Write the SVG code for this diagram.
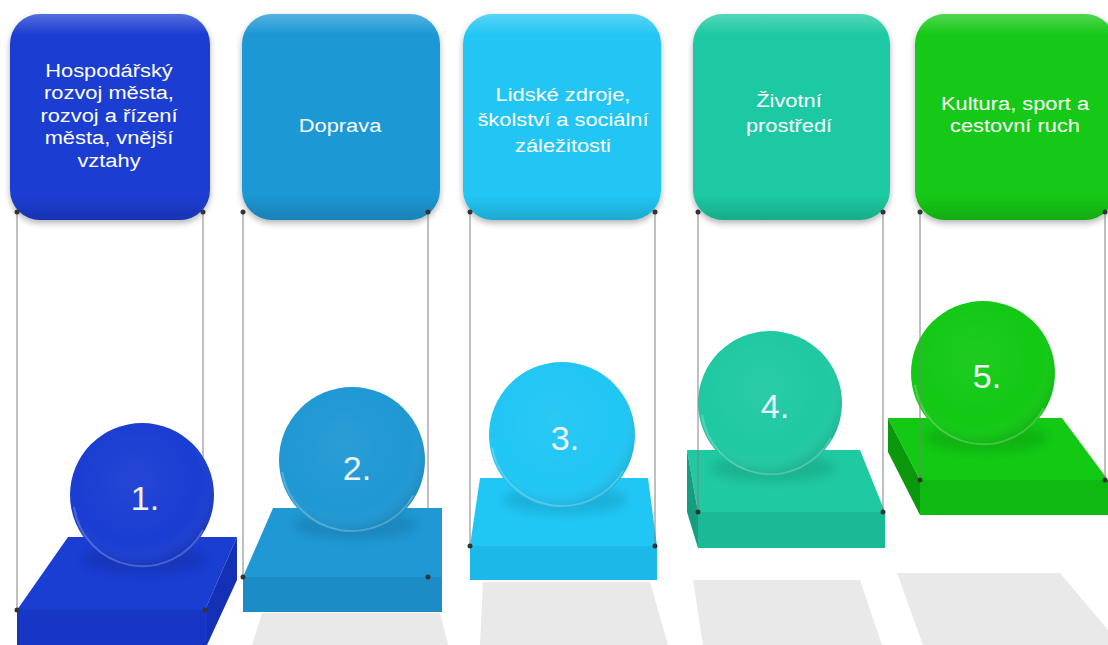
<svg xmlns="http://www.w3.org/2000/svg" width="1108" height="645" viewBox="0 0 1108 645">
<style>
.lbl{fill:#ffffff;font-family:"Liberation Sans",Arial,sans-serif;font-size:19px;text-anchor:middle}
.num{fill:#eef4ff;font-family:"Liberation Sans",Arial,sans-serif;font-size:34px;text-anchor:middle}
.conn{stroke:#808080;stroke-width:1;fill:none}
.dot{fill:#333333}
.shadow{fill:#e9e9e9}
.hl{fill:none;stroke:#ffffff;stroke-opacity:0.22;stroke-width:2}
.gloss{fill:url(#gloss)}
.sph{fill:url(#sph)}
.cshadow{fill:#000000;opacity:0.1;filter:url(#blur)}
</style>
<defs>
<linearGradient id="gloss" x1="0" y1="0" x2="0" y2="1">
<stop offset="0" stop-color="#ffffff" stop-opacity="0.25"/>
<stop offset="0.1" stop-color="#ffffff" stop-opacity="0"/>
<stop offset="0.88" stop-color="#000000" stop-opacity="0"/>
<stop offset="1" stop-color="#000000" stop-opacity="0.15"/>
</linearGradient>
<radialGradient id="sph" cx="0.45" cy="0.4" r="0.6">
<stop offset="0" stop-color="#ffffff" stop-opacity="0.05"/>
<stop offset="0.75" stop-color="#ffffff" stop-opacity="0"/>
<stop offset="1" stop-color="#000000" stop-opacity="0.1"/>
</radialGradient>
<filter id="drop" x="-10%" y="-10%" width="120%" height="125%">
<feDropShadow dx="0" dy="3" stdDeviation="3" flood-color="#000000" flood-opacity="0.3"/>
</filter>
<filter id="blur" x="-20%" y="-50%" width="140%" height="200%">
<feGaussianBlur stdDeviation="5"/>
</filter>
</defs>
<rect width="1108" height="645" fill="#ffffff"/>

<g id="shadows">
<polygon class="shadow" points="262,613 440,613 448,645 252,645"/>
<polygon class="shadow" points="483,582 650,582 668,645 480,645"/>
<polygon class="shadow" points="693,580 860,580 882,645 703,645"/>
<polygon class="shadow" points="897,573 1060,573 1108,630 1108,645 923,645"/>
</g>

<g id="node1">
<rect x="10" y="14" width="200" height="206" rx="30" fill="#1a3dd2" filter="url(#drop)"/>
<rect class="gloss" x="10" y="14" width="200" height="206" rx="30"/>
<text class="lbl" transform="translate(109 0) scale(1.15 1)"><tspan x="0" y="77">Hospodářský</tspan><tspan x="0" y="99.5">rozvoj města,</tspan><tspan x="0" y="122">rozvoj a řízení</tspan><tspan x="0" y="144.5">města, vnější</tspan><tspan x="0" y="167">vztahy</tspan></text>
<polygon points="68,537 237,537 205,610 17,610" fill="#1a3dd2"/>
<polygon points="237,537 237,580 207,645 205,610" fill="#1430b4"/>
<rect x="17" y="610" width="190" height="35" fill="#1836c4"/>
<ellipse class="cshadow" cx="145" cy="560" rx="62" ry="14"/>
<circle cx="142" cy="495" r="72" fill="#1a3dd2"/>
<circle class="sph" cx="142" cy="495" r="72"/>
<path class="hl" d="M203 530 A69 69 0 0 1 74 507"/>
<text class="num" x="145" y="510">1.</text>
</g>

<g id="node2">
<rect x="242" y="14" width="198" height="206" rx="30" fill="#1f98d4" filter="url(#drop)"/>
<rect class="gloss" x="242" y="14" width="198" height="206" rx="30"/>
<text class="lbl" transform="translate(340 0) scale(1.15 1)"><tspan x="0" y="132">Doprava</tspan></text>
<polygon points="273,508 442,508 442,577 243,577" fill="#1f98d4"/>
<rect x="243" y="577" width="199" height="35" fill="#1b8cc6"/>
<ellipse class="cshadow" cx="355" cy="525" rx="62" ry="14"/>
<circle cx="352" cy="460" r="73" fill="#1f98d4"/>
<circle class="sph" cx="352" cy="460" r="73"/>
<path class="hl" d="M413.5 495.5 A71 71 0 0 1 282 472"/>
<text class="num" x="357" y="480">2.</text>
</g>

<g id="node3">
<rect x="463" y="14" width="198" height="206" rx="30" fill="#20c6f4" filter="url(#drop)"/>
<rect class="gloss" x="463" y="14" width="198" height="206" rx="30"/>
<text class="lbl" transform="translate(563 0) scale(1.15 1)"><tspan x="0" y="101">Lidské zdroje,</tspan><tspan x="0" y="126.5">školství a sociální</tspan><tspan x="0" y="152">záležitosti</tspan></text>
<polygon points="480,478 648,478 657,546 470,546" fill="#20c6f4"/>
<rect x="470" y="546" width="187" height="34" fill="#1cb9e8"/>
<ellipse class="cshadow" cx="565" cy="500" rx="62" ry="14"/>
<circle cx="562" cy="435" r="73" fill="#20c6f4"/>
<circle class="sph" cx="562" cy="435" r="73"/>
<path class="hl" d="M623.5 470.5 A71 71 0 0 1 492 447"/>
<text class="num" x="565" y="450">3.</text>
</g>

<g id="node4">
<rect x="693" y="14" width="197" height="206" rx="30" fill="#1fc9a2" filter="url(#drop)"/>
<rect class="gloss" x="693" y="14" width="197" height="206" rx="30"/>
<text class="lbl" transform="translate(789 0) scale(1.15 1)"><tspan x="0" y="107">Životní</tspan><tspan x="0" y="132">prostředí</tspan></text>
<polygon points="687,450 860,450 885,512 698,512" fill="#1fc9a2"/>
<polygon points="687,450 698,512 698,548 687,512" fill="#169c7e"/>
<rect x="698" y="512" width="187" height="36" fill="#1bba96"/>
<ellipse class="cshadow" cx="773" cy="468" rx="62" ry="14"/>
<circle cx="770" cy="403" r="72" fill="#1fc9a2"/>
<circle class="sph" cx="770" cy="403" r="72"/>
<path class="hl" d="M831 438 A69 69 0 0 1 702 415"/>
<text class="num" x="775" y="418">4.</text>
</g>

<g id="node5">
<rect x="915" y="14" width="200" height="206" rx="30" fill="#12c914" filter="url(#drop)"/>
<rect class="gloss" x="915" y="14" width="200" height="206" rx="30"/>
<text class="lbl" transform="translate(1015 0) scale(1.15 1)"><tspan x="0" y="110">Kultura, sport a</tspan><tspan x="0" y="132">cestovní ruch</tspan></text>
<polygon points="888,418 1062,418 1108,480 920,480" fill="#12c914"/>
<polygon points="888,418 920,480 920,515 888,452" fill="#0b980d"/>
<rect x="920" y="480" width="188" height="35" fill="#10b912"/>
<ellipse class="cshadow" cx="986" cy="438" rx="62" ry="14"/>
<circle cx="983" cy="373" r="72" fill="#12c914"/>
<circle class="sph" cx="983" cy="373" r="72"/>
<path class="hl" d="M1044 408 A69 69 0 0 1 915 385"/>
<text class="num" x="987" y="388">5.</text>
</g>

<g id="connectors">
<line class="conn" x1="17" y1="212" x2="17" y2="610"/>
<line class="conn" x1="203" y1="212" x2="203" y2="457"/>
<line class="conn" x1="243" y1="212" x2="243" y2="577"/>
<line class="conn" x1="428" y1="212" x2="428" y2="508"/>
<line class="conn" x1="470" y1="212" x2="470" y2="546"/>
<line class="conn" x1="655" y1="212" x2="655" y2="546"/>
<line class="conn" x1="698" y1="212" x2="698" y2="512"/>
<line class="conn" x1="883" y1="212" x2="883" y2="512"/>
<line class="conn" x1="920" y1="212" x2="920" y2="480"/>
<line class="conn" x1="1105" y1="212" x2="1105" y2="480"/>
<circle class="dot" cx="17" cy="212" r="2.5"/>
<circle class="dot" cx="203" cy="212" r="2.5"/>
<circle class="dot" cx="243" cy="212" r="2.5"/>
<circle class="dot" cx="428" cy="212" r="2.5"/>
<circle class="dot" cx="470" cy="212" r="2.5"/>
<circle class="dot" cx="655" cy="212" r="2.5"/>
<circle class="dot" cx="698" cy="212" r="2.5"/>
<circle class="dot" cx="883" cy="212" r="2.5"/>
<circle class="dot" cx="920" cy="212" r="2.5"/>
<circle class="dot" cx="1105" cy="212" r="2.5"/>
<circle class="dot" cx="17" cy="610" r="2.5"/>
<circle class="dot" cx="205" cy="610" r="2.5"/>
<circle class="dot" cx="243" cy="577" r="2.5"/>
<circle class="dot" cx="428" cy="577" r="2.5"/>
<circle class="dot" cx="470" cy="546" r="2.5"/>
<circle class="dot" cx="655" cy="546" r="2.5"/>
<circle class="dot" cx="698" cy="512" r="2.5"/>
<circle class="dot" cx="883" cy="512" r="2.5"/>
<circle class="dot" cx="920" cy="480" r="2.5"/>
<circle class="dot" cx="1105" cy="480" r="2.5"/>
</g>
</svg>
